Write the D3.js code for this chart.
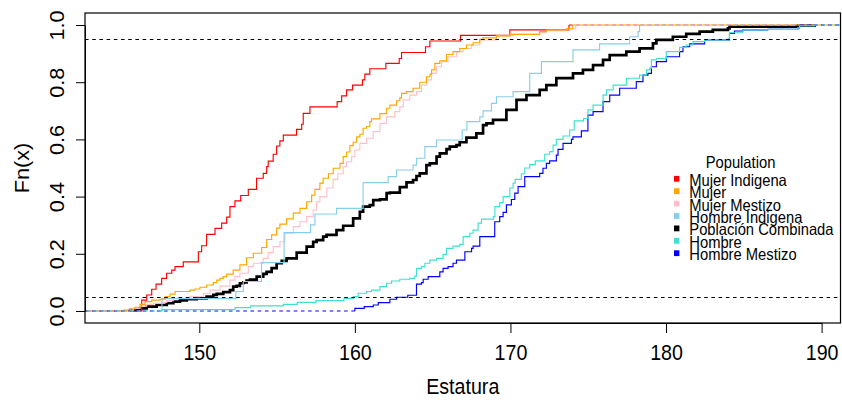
<!DOCTYPE html>
<html>
<head>
<meta charset="utf-8">
<script src="https://cdn.jsdelivr.net/npm/d3@7"></script>
<style>
  body { margin: 0; background: #fff; }
  svg { display: block; }
  text { font-family: "Liberation Sans", Arial, sans-serif; }
</style>
</head>
<body>
<svg id="chart" width="842" height="405"></svg>
<script>
// Empirical distribution functions of height (estatura, cm).
// Each entry: [estatura, Fn(x) just after the jump at that height].
const mujerIndigena = [[146.3,0.038],[146.62,0.056],[146.94,0.076],[147.22,0.094],[147.58,0.114],[147.9,0.132],[148.23,0.143],[148.44,0.155],[148.97,0.172],[149.94,0.207],[150.15,0.228],[150.47,0.268],[151.01,0.289],[151.44,0.307],[151.76,0.328],[151.97,0.365],[152.29,0.385],[152.66,0.404],[153.15,0.425],[153.68,0.464],[154.11,0.481],[154.33,0.505],[154.43,0.524],[154.75,0.548],[154.97,0.577],[155.18,0.595],[155.4,0.615],[156.25,0.635],[156.58,0.653],[156.68,0.691],[157.11,0.714],[158.86,0.732],[159.15,0.752],[159.47,0.773],[159.85,0.79],[160.49,0.808],[160.64,0.828],[160.96,0.847],[161.99,0.866],[162.85,0.883],[163.0,0.904],[164.54,0.924],[164.82,0.944],[166.79,0.964],[169.96,0.983],[173.76,1]];

const mujer = [[145.13,0.003],[145.55,0.007],[145.87,0.013],[146.19,0.023],[146.51,0.033],[146.94,0.038],[147.48,0.041],[147.8,0.05],[148.12,0.059],[148.44,0.068],[149.4,0.073],[149.72,0.077],[150.04,0.083],[150.48,0.091],[150.9,0.099],[151.12,0.108],[151.33,0.114],[151.54,0.12],[151.76,0.129],[152.18,0.143],[152.61,0.161],[153.04,0.186],[153.47,0.202],[154.01,0.222],[154.33,0.25],[154.65,0.266],[154.97,0.29],[155.18,0.304],[155.61,0.322],[156.04,0.342],[156.47,0.359],[156.9,0.382],[157.22,0.405],[157.43,0.425],[157.75,0.447],[157.96,0.464],[158.3,0.48],[158.61,0.499],[159.04,0.516],[159.25,0.54],[159.47,0.556],[159.68,0.578],[159.89,0.59],[160.11,0.609],[160.32,0.618],[160.53,0.639],[160.75,0.645],[160.96,0.662],[161.07,0.672],[161.61,0.69],[162.04,0.709],[162.25,0.72],[162.68,0.735],[162.89,0.745],[163.0,0.761],[163.32,0.767],[163.74,0.779],[164.17,0.8],[164.6,0.819],[164.82,0.828],[164.93,0.843],[165.14,0.866],[165.46,0.875],[165.89,0.897],[166.31,0.907],[166.74,0.918],[167.17,0.93],[167.6,0.938],[168.03,0.95],[168.24,0.955],[169.1,0.962],[169.96,0.967],[171.88,0.977],[172.31,0.983],[173.6,0.987],[174.0,1]];

const mujerMestizo = [[145.34,0.003],[145.76,0.009],[146.19,0.017],[146.62,0.023],[147.05,0.027],[147.59,0.03],[147.91,0.036],[148.33,0.044],[149.4,0.05],[150.26,0.062],[150.69,0.073],[151.33,0.087],[151.97,0.108],[152.29,0.12],[152.61,0.132],[153.15,0.155],[153.47,0.167],[154.11,0.184],[154.43,0.204],[154.75,0.225],[155.18,0.242],[155.5,0.272],[156.04,0.295],[156.47,0.312],[156.9,0.33],[157.32,0.353],[157.54,0.382],[157.75,0.4],[158.2,0.43],[158.6,0.46],[158.9,0.48],[159.25,0.505],[159.47,0.522],[159.79,0.54],[160.0,0.563],[160.32,0.586],[160.75,0.604],[161.18,0.627],[161.61,0.656],[162.04,0.679],[162.57,0.697],[162.89,0.714],[163.11,0.738],[163.53,0.755],[163.96,0.767],[164.28,0.79],[164.6,0.808],[164.93,0.831],[165.25,0.854],[165.57,0.872],[165.99,0.889],[166.53,0.907],[166.96,0.918],[167.5,0.93],[168.03,0.948],[169.1,0.962],[170.17,0.967],[171.88,0.975],[172.31,0.98],[173.6,0.986],[174.2,1]];

const hombreIndigena = [[147.6,0.043],[152.35,0.068],[152.83,0.103],[154.0,0.169],[155.45,0.274],[157.15,0.301],[157.43,0.339],[158.82,0.359],[160.53,0.449],[162.14,0.47],[162.68,0.493],[163.74,0.51],[163.96,0.534],[164.5,0.575],[165.25,0.598],[166.9,0.633],[167.2,0.662],[168.03,0.679],[168.24,0.7],[168.78,0.726],[169.1,0.749],[170.17,0.767],[171.24,0.831],[171.99,0.872],[174.02,0.913],[175.73,0.934],[177.66,0.959],[178.2,0.977],[178.3,1]];

const poblacionCombinada = [[145.55,0.003],[146.19,0.009],[146.62,0.015],[147.26,0.021],[147.91,0.027],[148.33,0.033],[148.76,0.037],[149.19,0.041],[149.83,0.044],[150.47,0.05],[150.9,0.056],[151.12,0.06],[151.54,0.066],[151.97,0.073],[152.18,0.085],[152.4,0.088],[152.61,0.097],[152.83,0.1],[153.04,0.106],[153.26,0.11],[153.69,0.12],[154.11,0.13],[154.33,0.137],[154.65,0.15],[154.97,0.167],[155.3,0.175],[155.61,0.184],[156.26,0.204],[156.9,0.225],[157.32,0.242],[157.54,0.248],[157.96,0.26],[158.18,0.266],[158.82,0.283],[159.25,0.298],[159.89,0.324],[160.32,0.347],[160.53,0.365],[160.96,0.37],[161.18,0.388],[161.61,0.39],[162.04,0.412],[162.25,0.414],[162.89,0.433],[163.32,0.45],[163.74,0.458],[163.96,0.472],[164.17,0.481],[164.6,0.51],[164.82,0.516],[165.25,0.54],[165.46,0.551],[165.89,0.566],[166.1,0.575],[166.53,0.58],[166.74,0.59],[167.17,0.606],[167.81,0.621],[168.24,0.65],[168.46,0.656],[168.88,0.668],[169.74,0.703],[170.39,0.738],[171.03,0.755],[171.88,0.773],[172.31,0.79],[172.95,0.814],[174.02,0.831],[174.66,0.843],[175.31,0.86],[175.95,0.878],[176.38,0.895],[177.45,0.907],[178.3,0.918],[179.16,0.936],[179.38,0.948],[180.44,0.959],[181.3,0.969],[182.16,0.977],[183.01,0.983],[183.98,0.988],[184.08,0.994],[188.47,0.998],[189.55,1]];

const hombre = [[147.6,0.005],[152.3,0.012],[153.3,0.018],[155.4,0.023],[156.3,0.03],[157.5,0.036],[159.3,0.044],[159.9,0.05],[160.21,0.062],[160.75,0.068],[161.07,0.073],[161.61,0.085],[162.04,0.097],[162.36,0.105],[162.89,0.111],[163.53,0.114],[163.85,0.122],[163.96,0.149],[164.28,0.155],[164.5,0.167],[164.82,0.178],[165.25,0.184],[165.67,0.198],[165.89,0.219],[166.31,0.227],[166.74,0.233],[166.96,0.26],[167.39,0.272],[167.6,0.283],[167.92,0.307],[168.14,0.321],[168.9,0.33],[169.0,0.365],[169.31,0.379],[169.53,0.4],[169.96,0.43],[170.17,0.447],[170.3,0.46],[170.7,0.48],[170.92,0.5],[171.24,0.512],[171.6,0.525],[172.2,0.548],[172.52,0.557],[172.74,0.58],[172.95,0.6],[173.38,0.612],[173.81,0.633],[174.1,0.665],[174.7,0.673],[174.98,0.703],[175.31,0.72],[175.95,0.755],[176.17,0.773],[176.6,0.79],[177.45,0.814],[178.3,0.825],[178.74,0.843],[178.95,0.849],[179.06,0.878],[179.38,0.883],[180.02,0.907],[180.87,0.922],[181.3,0.93],[181.73,0.942],[182.48,0.948],[183.98,0.953],[184.08,0.973],[184.94,0.983],[186.54,0.985],[188.47,0.99],[188.58,0.997],[189.55,1]];

const hombreMestizo = [[160.0,0.009],[160.6,0.015],[161.18,0.021],[161.5,0.029],[162.25,0.041],[162.68,0.048],[163.4,0.055],[163.96,0.094],[164.28,0.099],[164.39,0.111],[164.71,0.12],[165.46,0.137],[165.67,0.149],[165.99,0.155],[166.31,0.167],[166.53,0.178],[167.07,0.207],[167.5,0.219],[167.6,0.227],[168.03,0.26],[168.99,0.312],[169.31,0.33],[169.53,0.345],[169.74,0.371],[170.06,0.39],[170.28,0.412],[170.49,0.435],[170.92,0.47],[171.88,0.481],[172.09,0.499],[172.31,0.516],[172.52,0.525],[172.95,0.545],[173.06,0.565],[173.38,0.586],[173.92,0.6],[174.02,0.609],[174.56,0.63],[174.98,0.685],[175.31,0.697],[175.95,0.732],[176.38,0.755],[177.02,0.779],[178.09,0.802],[178.52,0.825],[178.84,0.831],[179.06,0.854],[179.38,0.872],[180.02,0.889],[180.87,0.907],[181.09,0.924],[181.52,0.934],[182.48,0.948],[184.08,0.971],[184.4,0.979],[184.94,0.983],[186.54,0.985],[188.47,0.99],[188.58,1]];

const populations = ["Mujer Indigena", "Mujer", "Mujer Mestizo", "Hombre Indigena", "Población Combinada", "Hombre", "Hombre Mestizo"];
const populationColors = ["#FF0000", "#FFA500", "#FFC0CB", "#87CEEB", "#000000", "#40E0D0", "#0000FF"];
const populationSeries = [mujerIndigena, mujer, mujerMestizo, hombreIndigena, poblacionCombinada, hombre, hombreMestizo];
const drawOrder = [4, 0, 2, 3, 1, 6, 5];

const xTicks = [150, 160, 170, 180, 190];
const yTicks = [0, 0.2, 0.4, 0.6, 0.8, 1.0];
const referenceLevels = [0.05, 0.95];

// ---- layout ----
const plot = { left: 85, right: 840.5, top: 13, bottom: 323 };
const squeeze = 0.905;          // horizontal text compression
const axisFont = 21.7, legendFont = 16.3;
const dash = "3.6,3.6";

const svg = d3.select("#chart");

const x = d3.scaleLinear().domain([142.653, 191.215]).range([plot.left, plot.right]);
const y = d3.scaleLinear().domain([-0.042, 1.042]).range([plot.bottom, plot.top]);

svg.append("defs").append("clipPath").attr("id", "plot-clip")
  .append("rect")
  .attr("x", plot.left).attr("y", plot.top)
  .attr("width", plot.right - plot.left).attr("height", plot.bottom - plot.top);

const stepLine = d3.line()
  .x(d => x(d[0]))
  .y(d => y(d[1]))
  .curve(d3.curveStepAfter);

const plotArea = svg.append("g").attr("clip-path", "url(#plot-clip)");

// ECDF step curves: solid between the first and last jump,
// dashed tails at Fn = 0 (left) and Fn = 1 (right) for the added curves.
drawOrder.forEach(i => {
  const knots = populationSeries[i];
  const color = populationColors[i];
  const isCombined = i === 4;
  const first = knots[0][0], last = knots[knots.length - 1][0];
  const g = plotArea.append("g");

  if (!isCombined) {
    // tails drawn outward from the curve so the dash phase starts at the jump
    g.append("path")
      .attr("d", d3.line()([[x(first), y(0)], [x(x.domain()[0]), y(0)]]))
      .attr("fill", "none").attr("stroke", color)
      .attr("stroke-width", 1.15).attr("stroke-dasharray", dash);
    g.append("path")
      .attr("d", d3.line()([[x(last), y(1)], [x(x.domain()[1]), y(1)]]))
      .attr("fill", "none").attr("stroke", color)
      .attr("stroke-width", 1.15).attr("stroke-dasharray", dash);
  }

  g.append("path")
    .datum([[first, 0], ...knots])
    .attr("d", stepLine)
    .attr("fill", "none")
    .attr("stroke", color)
    .attr("stroke-width", isCombined ? 2.7 : 1.15)
    .attr("stroke-linejoin", "miter");
});

// Black dashed reference lines
plotArea.selectAll("line.ref")
  .data(referenceLevels)
  .join("line")
  .attr("class", "ref")
  .attr("x1", plot.left).attr("x2", plot.right)
  .attr("y1", d => Math.round(y(d)) + 0.5).attr("y2", d => Math.round(y(d)) + 0.5)
  .attr("stroke", "#000")
  .attr("stroke-width", 1)
  .attr("stroke-dasharray", dash);

// Frame
svg.append("rect")
  .attr("x", plot.left).attr("y", plot.top)
  .attr("width", plot.right - plot.left).attr("height", plot.bottom - plot.top)
  .attr("fill", "none").attr("stroke", "#000").attr("stroke-width", 1.2);

// X axis
const xAxisScale = d3.scaleLinear()
  .domain(d3.extent(xTicks))
  .range(d3.extent(xTicks).map(x));
const xAxis = svg.append("g")
  .attr("transform", `translate(0,${plot.bottom})`)
  .call(d3.axisBottom(xAxisScale).tickValues(xTicks).tickSize(10).tickSizeOuter(0).tickFormat(d3.format("d")));
xAxis.selectAll("path, line").attr("stroke", "#000").attr("stroke-width", 1);
xAxis.selectAll("text")
  .attr("y", null).attr("dy", null)
  .attr("transform", `translate(0,37) scale(${squeeze},1)`)
  .attr("text-anchor", "middle")
  .attr("font-size", axisFont)
  .attr("font-family", '"Liberation Sans", Arial, sans-serif')
  .attr("fill", "#000");

// Y axis
const yAxisScale = d3.scaleLinear()
  .domain(d3.extent(yTicks))
  .range(d3.extent(yTicks).map(y));
const yAxis = svg.append("g")
  .attr("transform", `translate(${plot.left},0)`)
  .call(d3.axisLeft(yAxisScale).tickValues(yTicks).tickSize(9).tickSizeOuter(0).tickFormat(d3.format(".1f")));
yAxis.selectAll("path, line").attr("stroke", "#000").attr("stroke-width", 1);
yAxis.selectAll("text")
  .attr("x", null).attr("dy", null)
  .attr("transform", `translate(-21,0) scale(${squeeze},1) rotate(-90)`)
  .attr("text-anchor", "middle")
  .attr("font-size", axisFont)
  .attr("font-family", '"Liberation Sans", Arial, sans-serif')
  .attr("fill", "#000");

// Axis titles
svg.append("text")
  .attr("transform", `translate(${(plot.left + plot.right) / 2},394) scale(${squeeze},1)`)
  .attr("text-anchor", "middle")
  .attr("font-size", axisFont)
  .attr("fill", "#000")
  .text("Estatura");

svg.append("text")
  .attr("transform", `translate(29,${(plot.top + plot.bottom) / 2}) scale(${squeeze},1) rotate(-90)`)
  .attr("text-anchor", "middle")
  .attr("font-size", axisFont)
  .attr("fill", "#000")
  .text("Fn(x)");

// Legend
const legend = svg.append("g");
legend.append("text")
  .attr("transform", `translate(740.5,168.3) scale(${squeeze},1)`)
  .attr("text-anchor", "middle")
  .attr("font-size", legendFont)
  .attr("fill", "#000")
  .text("Population");

const rowY = i => 178.8 + i * 12.4;
const items = legend.selectAll("g.item")
  .data(populations)
  .join("g")
  .attr("class", "item");
items.append("rect")
  .attr("x", 674)
  .attr("y", (d, i) => rowY(i) - 2.9)
  .attr("width", 5.4).attr("height", 5.8)
  .attr("fill", (d, i) => populationColors[i]);
items.append("text")
  .attr("transform", (d, i) => `translate(689.3,${rowY(i) + 7}) scale(${squeeze},1)`)
  .attr("font-size", legendFont)
  .attr("fill", "#000")
  .text(d => d);
</script>
</body>
</html>
